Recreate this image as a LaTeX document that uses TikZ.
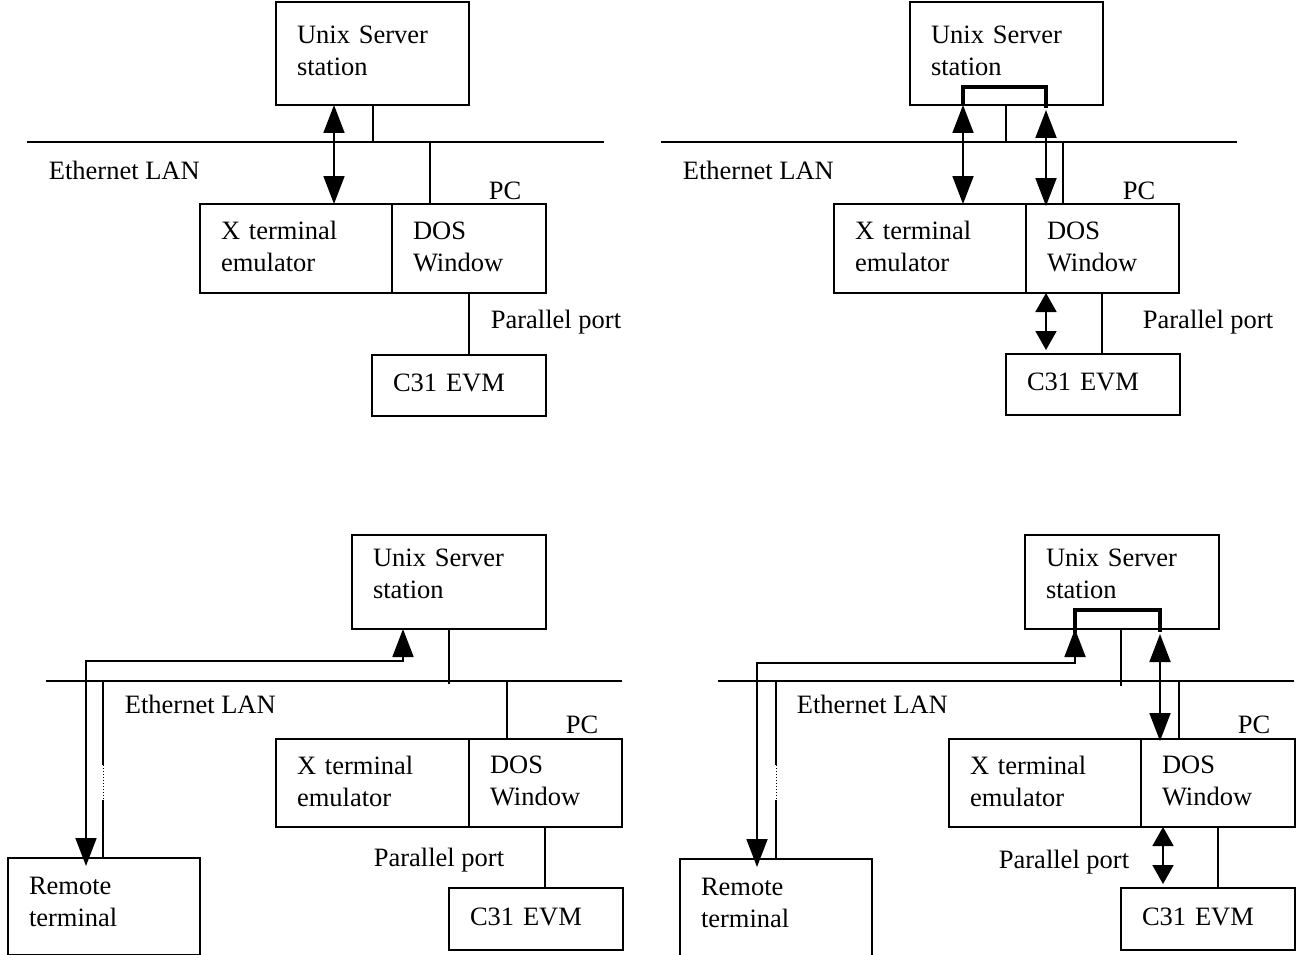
\documentclass[tikz,border=0pt]{standalone}
\usepackage{fontspec}
\setmainfont{Liberation Serif}
\usetikzlibrary{arrows.meta}

\begin{document}
\begin{tikzpicture}[x=1pt,y=-1pt,line width=1.8pt,
  font=\fontsize{26.5}{32}\selectfont,
  box/.style={draw,anchor=north west,align=left,outer sep=0pt,inner xsep=21pt,inner ysep=0pt},
  lbl/.style={anchor=west,inner sep=0pt},
  pclbl/.style={inner sep=0pt},
  dbl/.style={{Triangle[width=21pt,length=28pt]}-{Triangle[width=21pt,length=28pt]}},
  sdbl/.style={{Triangle[width=21pt,length=19pt]}-{Triangle[width=21pt,length=19pt]}},
  bracket/.style={line width=4.5pt},
  gap/.style={line width=1pt,dash pattern=on 1pt off 2pt}]
\useasboundingbox (0,0) rectangle (1296,955);

\node[box,text width=151pt,minimum height=103pt,text depth=38pt] (asrv) at (276,2) {Unix Server\\station};
\node[box,text width=150pt,minimum height=89pt,text depth=36pt] (ax) at (200,204) {X terminal\\emulator};
\node[box,text width=112pt,minimum height=89pt,text depth=36pt] (ados) at (392,204) {DOS\\Window};
\node[box,text width=132pt,minimum height=61pt,text depth=6pt] (aevm) at (372,355) {C31 EVM};
\node[lbl] (alan) at (48,170) {Ethernet LAN};
\node[pclbl] (apc) at (505,191) {PC};
\node[lbl] (apar) at (490,322) {Parallel port};
\coordinate (al) at (27,142);
\coordinate (ar) at (604,142);
\coordinate (a1) at (373,142);
\coordinate (a2) at (430,142);
\coordinate (a3) at (334,0);
\coordinate (a4) at (469,0);
\draw (al) -- (ar);
\draw (asrv.south -| a1) -- (a1);
\draw (a2) -- (ados.north -| a2);
\draw[dbl] (asrv.south -| a3) -- (ax.north -| a3);
\draw (ados.south -| a4) -- (aevm.north -| a4);

\node[box,text width=151pt,minimum height=103pt,text depth=38pt] (bsrv) at (910,2) {Unix Server\\station};
\node[box,text width=150pt,minimum height=89pt,text depth=36pt] (bx) at (834,204) {X terminal\\emulator};
\node[box,text width=111pt,minimum height=89pt,text depth=36pt] (bdos) at (1026,204) {DOS\\Window};
\node[box,text width=132pt,minimum height=61pt,text depth=6pt] (bevm) at (1006,354) {C31 EVM};
\node[lbl] (blan) at (682,170) {Ethernet LAN};
\node[pclbl] (bpc) at (1139,191) {PC};
\node[lbl] (bpar) at (1142,322) {Parallel port};
\coordinate (bl) at (661,142);
\coordinate (br) at (1237,142);
\coordinate (b1) at (1006,142);
\coordinate (b2) at (1063,142);
\coordinate (b3) at (963,0);
\coordinate (b4) at (1046,0);
\coordinate (b5) at (1102,0);
\coordinate (bk) at (1005,87);
\coordinate (bt) at (1046,110);
\draw (bl) -- (br);
\draw (bsrv.south -| b1) -- (b1);
\draw (b2) -- (bdos.north -| b2);
\draw[dbl] (bsrv.south -| b3) -- (bx.north -| b3);
\draw[dbl] (bt) -- ([yshift=-2pt]bdos.north -| b4);
\draw[bracket] (bsrv.south -| b3) -- (bk -| b3) -- (bk -| b4) -- ([yshift=2pt]bt);
\draw[sdbl] (bdos.south -| b4) -- ([yshift=4pt]bevm.north -| b4);
\draw (bdos.south -| b5) -- (bevm.north -| b5);

\node[box,text width=152pt,minimum height=94pt,text depth=48pt] (csrv) at (352,535) {Unix Server\\station};
\node[box,text width=151pt,minimum height=88pt,text depth=36pt] (cx) at (276,739) {X terminal\\emulator};
\node[box,text width=111pt,minimum height=88pt,text depth=36pt] (cdos) at (469,739) {DOS\\Window};
\node[box,text width=132pt,minimum height=62pt,text depth=4pt] (cevm) at (449,888) {C31 EVM};
\node[box,text width=150pt,minimum height=97pt,text depth=42pt] (crem) at (8,858) {Remote\\terminal};
\node[lbl] (clan) at (124,704) {Ethernet LAN};
\node[pclbl] (cpc) at (582,725) {PC};
\node[lbl] (cpar) at (373,860) {Parallel port};
\coordinate (cl) at (46,681);
\coordinate (cr) at (622,681);
\coordinate (c1) at (449,684);
\coordinate (c2) at (507,681);
\coordinate (c3) at (545,0);
\coordinate (c4) at (86,661);
\coordinate (c5) at (403,661);
\coordinate (c6) at (103,681);
\coordinate (c7) at (103,765);
\coordinate (c8) at (103,800);
\draw (cl) -- (cr);
\draw (csrv.south -| c1) -- (c1);
\draw (c2) -- (cdos.north -| c2);
\draw (cdos.south -| c3) -- (cevm.north -| c3);
\draw[dbl] ([yshift=-8pt]crem.north -| c4) -- (c4) -- (c5) -- (csrv.south -| c5);
\draw (c6) -- (c7);
\draw[gap] (c7) -- (c8);
\draw (c8) -- (crem.north -| c8);

\node[box,text width=152pt,minimum height=94pt,text depth=48pt] (dsrv) at (1025,535) {Unix Server\\station};
\node[box,text width=150pt,minimum height=88pt,text depth=36pt] (dx) at (949,739) {X terminal\\emulator};
\node[box,text width=112pt,minimum height=88pt,text depth=36pt] (ddos) at (1141,739) {DOS\\Window};
\node[box,text width=132pt,minimum height=62pt,text depth=4pt] (devm) at (1121,888) {C31 EVM};
\node[box,text width=150pt,minimum height=97pt,text depth=42pt] (drem) at (680,859) {Remote\\terminal};
\node[lbl] (dlan) at (796,704) {Ethernet LAN};
\node[pclbl] (dpc) at (1254,725) {PC};
\node[lbl] (dpar) at (998,862) {Parallel port};
\coordinate (dl) at (718,681);
\coordinate (dr) at (1294,681);
\coordinate (d1) at (1121,686);
\coordinate (d2) at (1179,681);
\coordinate (d3) at (1160,634);
\coordinate (d4) at (1163,0);
\coordinate (d5) at (1218,0);
\coordinate (d6) at (757,663);
\coordinate (d7) at (1075,663);
\coordinate (d8) at (776,681);
\coordinate (d9) at (776,765);
\coordinate (d10) at (776,800);
\coordinate (dk) at (1100,610);
\draw (dl) -- (dr);
\draw (dsrv.south -| d1) -- (d1);
\draw (d2) -- (ddos.north -| d2);
\draw[dbl] ([yshift=-8pt]drem.north -| d6) -- (d6) -- (d7) -- (dsrv.south -| d7);
\draw[bracket] ([yshift=-4pt]dsrv.south -| d7) -- (dk -| d7) -- (dk -| d3) -- ([yshift=2pt]d3);
\draw[dbl] (d3) -- ([yshift=-2pt]ddos.north -| d3);
\draw[sdbl] (ddos.south -| d4) -- ([yshift=4pt]devm.north -| d4);
\draw (ddos.south -| d5) -- (devm.north -| d5);
\draw (d8) -- (d9);
\draw[gap] (d9) -- (d10);
\draw (d10) -- (drem.north -| d10);
\end{tikzpicture}
\end{document}
